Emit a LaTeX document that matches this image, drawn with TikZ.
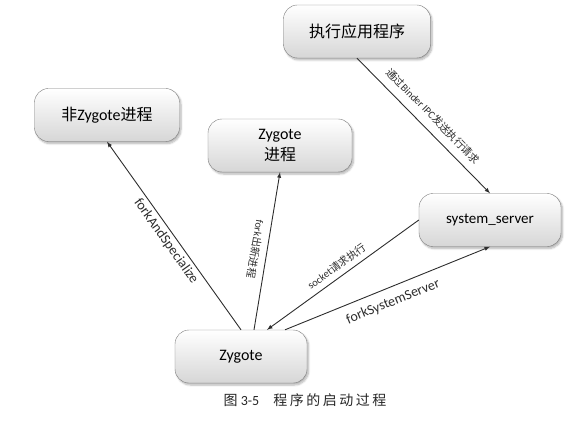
\documentclass[tikz,border=0pt]{standalone}
\usepackage{fontspec}
\setmainfont{Carlito}
\newfontfamily\cjk{Noto Sans CJK SC}
\newfontfamily\cjkwide[LetterSpace=18]{Noto Sans CJK SC}
\usetikzlibrary{arrows}
\usetikzlibrary{calc}
\usetikzlibrary{shadows.blur}
\definecolor{bd}{RGB}{125, 125, 125}
\definecolor{ln}{RGB}{45, 45, 45}

\begin{document}
\begin{tikzpicture}[x=1pt, y=-1pt,
    box/.style={draw=bd, rounded corners=14pt, top color=white, bottom color=gray!32,
        blur shadow={shadow xshift=1.5pt, shadow yshift=-2pt, shadow opacity=30, shadow blur steps=6},
        minimum height=53pt, align=center, font=\fontsize{16}{21}\selectfont},
    link/.style={ln, line width=0.9pt},
    lab/.style={font=\fontsize{14}{16}\selectfont, sloped},
    clab/.style={font=\fontsize{10.5}{12}\selectfont, sloped}]
    \useasboundingbox (0,0) rectangle (567,422);
    \node[box, minimum width=147pt] (app) at (357,31.5) {\cjk 执行应用程序};
    \node[box, minimum width=145pt] (nz) at (107,115) {{\cjk 非}Zygote{\cjk 进程}};
    \node[box, minimum width=144pt] (zp) at (280,145.5) {Zygote\\{\cjk 进程}};
    \node[box, minimum width=142pt, font=\fontsize{15}{18}\selectfont] (ss) at (490,220) {system\_server};
    \node[box, minimum width=132pt] (zyg) at (241,356.5) {Zygote};
    % connectors
    \draw[link, -latex] (app.south) -- (ss.north) node[clab, midway, above=5pt] {{\cjk 通过}Binder IPC{\cjk 发送执行请求}};
    \draw[link, -latex] (zyg.north) -- (nz.south) node[lab, midway, below] {forkAndSpecialize};
    \draw[link, latex-] (zp.south) -- ($(zyg.north)+(13,0)$) node[clab, allow upside down, midway, below=3pt] {fork{\cjk 出新进程}};
    \draw[link, -latex] (ss.west) -- ($(zyg.north)+(26,0)$) node[clab, midway, above=2pt] {socket{\cjk 请求执行}};
    \draw[link, -latex] ($(zyg.north)+(44,0)$) -- (ss.south) node[lab, midway, below=5pt] {forkSystemServer};
    \node[font=\fontsize{14}{16}\selectfont, text=black!85] (cap) at (305,400) {{\cjk 图} 3-5\quad{\cjkwide 程序的启动过程}};
\end{tikzpicture}
\end{document}
